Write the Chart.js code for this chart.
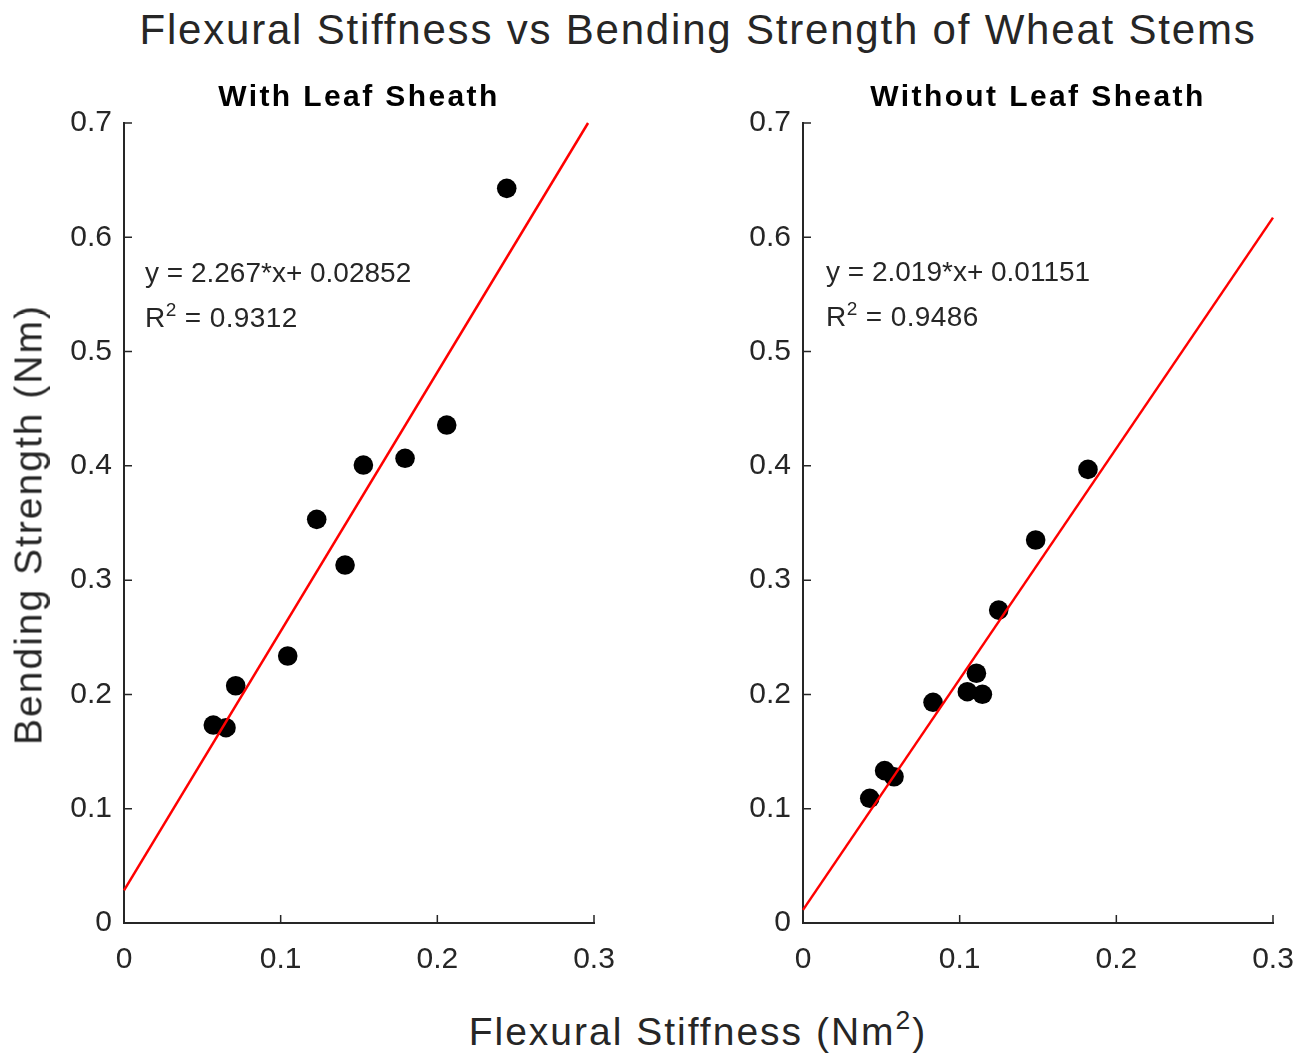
<!DOCTYPE html>
<html><head><meta charset="utf-8">
<script src="https://cdn.jsdelivr.net/npm/chart.js@4.4.1/dist/chart.umd.min.js"></script>
<style>
html,body{margin:0;padding:0;background:#fff;}
#wrap{position:relative;width:1309px;height:1054px;overflow:hidden;font-family:"Liberation Sans",Arial,sans-serif;color:#262626;}
.txt{position:absolute;white-space:nowrap;}
.ctr{transform:translateX(-50%);}
canvas{position:absolute;}
sup{font-size:0.68em;vertical-align:0.6em;line-height:0;}
</style></head><body>
<div id="wrap">
  <canvas id="cL" width="600" height="940" style="left:30px;top:60px;width:600px;height:940px"></canvas>
  <canvas id="cR" width="600" height="940" style="left:709px;top:60px;width:600px;height:940px"></canvas>

  <div class="txt ctr" style="left:698px;top:9px;font-size:42px;line-height:42px;letter-spacing:1.8px;">Flexural Stiffness vs Bending Strength of Wheat Stems</div>
  <div class="txt ctr" style="left:359px;top:81px;font-size:30px;line-height:30px;font-weight:bold;color:#000;letter-spacing:2.4px;">With Leaf Sheath</div>
  <div class="txt ctr" style="left:1038px;top:81px;font-size:30px;line-height:30px;font-weight:bold;color:#000;letter-spacing:2.4px;">Without Leaf Sheath</div>

  <div class="txt" style="left:145px;top:259px;font-size:28px;line-height:28px;">y = 2.267*x+ 0.02852</div>
  <div class="txt" style="left:145px;top:304px;font-size:28px;line-height:28px;letter-spacing:0.4px;">R<sup>2</sup> = 0.9312</div>
  <div class="txt" style="left:826px;top:258px;font-size:28px;line-height:28px;">y = 2.019*x+ 0.01151</div>
  <div class="txt" style="left:826px;top:303px;font-size:28px;line-height:28px;letter-spacing:0.4px;">R<sup>2</sup> = 0.9486</div>

  <div class="txt ctr" style="left:698px;top:1012px;font-size:39px;line-height:39px;letter-spacing:2px;">Flexural Stiffness (Nm<sup>2</sup>)</div>
  <div class="txt" style="left:-272px;top:505px;width:600px;height:39px;text-align:center;font-size:39px;line-height:39px;letter-spacing:2px;transform:rotate(-90deg);transform-origin:50% 50%;">Bending Strength (Nm)</div>
</div>
<script>
// ---- data ----
const xTickValues = [0, 0.1, 0.2, 0.3];
const xTickLabels = ['0', '0.1', '0.2', '0.3'];
const yTickValues = [0, 0.1, 0.2, 0.3, 0.4, 0.5, 0.6, 0.7];
const yTickLabels = ['0', '0.1', '0.2', '0.3', '0.4', '0.5', '0.6', '0.7'];

const withSheathX = [0.0570, 0.0651, 0.0713, 0.1045, 0.1230, 0.1411, 0.1528, 0.1794, 0.2060, 0.2443];
const withSheathY = [0.1732, 0.1709, 0.2076, 0.2336, 0.3532, 0.3132, 0.4007, 0.4066, 0.4357, 0.6428];
const withFitX = [0, 0.2962];
const withFitY = [0.02852, 0.7];

const withoutSheathX = [0.0426, 0.0521, 0.0581, 0.0830, 0.1049, 0.1107, 0.1145, 0.1249, 0.1485, 0.1819];
const withoutSheathY = [0.1091, 0.1333, 0.1280, 0.1931, 0.2024, 0.2185, 0.2001, 0.2738, 0.3351, 0.3969];
const withoutFitX = [0, 0.3];
const withoutFitY = [0.01151, 0.6172];

const AXIS = '#262626';
const FONT = "'Liberation Sans', Arial, sans-serif";

const inwardTicks = {
  id: 'inwardTicks',
  beforeDatasetsDraw(chart) {
    const {ctx, chartArea: a, scales: {x, y}} = chart;
    ctx.save();
    ctx.strokeStyle = AXIS;
    ctx.lineWidth = 1.5;
    ctx.beginPath();
    x.ticks.forEach(t => { const p = x.getPixelForValue(t.value); ctx.moveTo(p, a.bottom); ctx.lineTo(p, a.bottom - 8); });
    y.ticks.forEach(t => { const p = y.getPixelForValue(t.value); ctx.moveTo(a.left, p); ctx.lineTo(a.left + 8, p); });
    ctx.stroke();
    ctx.restore();
  }
};

function zip(xs, ys) { return xs.map((v, i) => ({x: v, y: ys[i]})); }

function makeChart(id, px, py, fx, fy) {
  return new Chart(document.getElementById(id), {
    type: 'scatter',
    data: {
      datasets: [
        { data: zip(fx, fy), showLine: true, borderColor: '#ff0000', borderWidth: 2.5, pointRadius: 0, order: 0, clip: false },
        { data: zip(px, py), backgroundColor: '#000', borderColor: '#000', borderWidth: 0, pointRadius: 9.8, order: 1 }
      ]
    },
    options: {
      responsive: false, animation: false, devicePixelRatio: 1,
      layout: { padding: { left: 0, top: 63, right: 36, bottom: 0 } },
      plugins: { legend: { display: false }, tooltip: { enabled: false } },
      scales: {
        x: {
          type: 'linear', min: 0, max: 0.3,
          afterBuildTicks: s => { s.ticks = xTickValues.map(v => ({value: v})); },
          afterFit: s => { s.height = 77; s.paddingLeft = 0; s.paddingRight = 0; },
          grid: { display: false, drawTicks: false },
          border: { display: true, color: AXIS, width: 2 },
          ticks: { padding: 19, color: AXIS, font: { family: FONT, size: 30 }, maxRotation: 0, autoSkip: false,
                   callback: (v) => xTickLabels[xTickValues.indexOf(v)] }
        },
        y: {
          type: 'linear', min: 0, max: 0.7,
          afterBuildTicks: s => { s.ticks = yTickValues.map(v => ({value: v})); },
          afterFit: s => { s.width = 94; s.paddingTop = 0; s.paddingBottom = 0; },
          grid: { display: false, drawTicks: false },
          border: { display: true, color: AXIS, width: 2 },
          ticks: { padding: 12, color: AXIS, font: { family: FONT, size: 30 }, autoSkip: false,
                   callback: (v) => yTickLabels[yTickValues.indexOf(v)] }
        }
      }
    },
    plugins: [inwardTicks]
  });
}

makeChart('cL', withSheathX, withSheathY, withFitX, withFitY);
makeChart('cR', withoutSheathX, withoutSheathY, withoutFitX, withoutFitY);
</script>
</body></html>
